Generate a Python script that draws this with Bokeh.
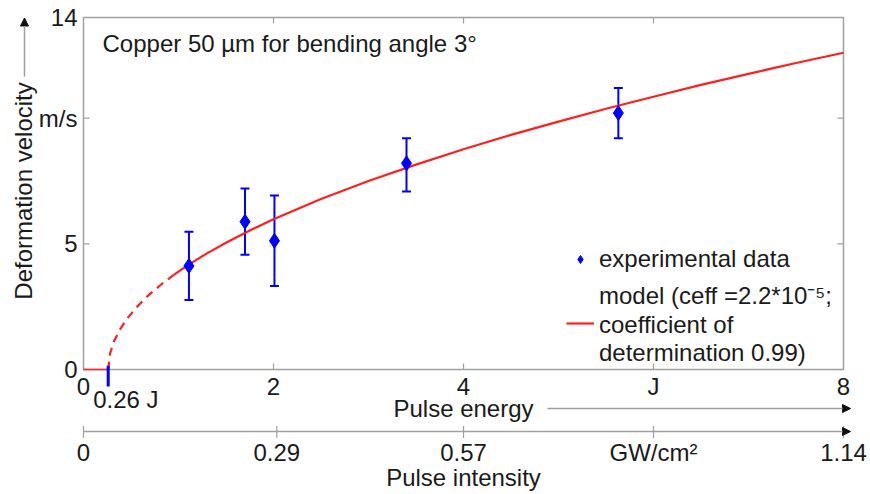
from bokeh.plotting import figure
from bokeh.models import (Range1d, Arrow, NormalHead, Whisker, TeeHead, ColumnDataSource,
                          Legend, LegendItem)
from bokeh.core.properties import value
from bokeh.embed import file_html
from bokeh.resources import INLINE

# ---- data ----
energy = [1.11, 1.70, 2.01, 3.40, 5.63]          # J
velocity = [4.12, 5.88, 5.12, 8.20, 10.20]        # m/s
err_low = [2.76, 4.56, 3.32, 7.08, 9.20]
err_high = [5.48, 7.20, 6.92, 9.20, 11.20]

model_dash_x = [0.26, 0.28, 0.32, 0.38, 0.46, 0.56, 0.68, 0.82, 0.95]
model_dash_y = [0.00, 0.64, 1.11, 1.57, 2.03, 2.48, 2.94, 3.39, 3.76]
model_x = [0.95, 1.1, 1.3, 1.5, 1.75, 2.0, 2.5, 3.0, 3.5, 4.0, 4.5, 5.0, 5.5, 6.0, 6.5, 7.0, 7.5, 8.0]
model_y = [3.76, 4.15, 4.62, 5.04, 5.53, 5.98, 6.78, 7.50, 8.15, 8.76, 9.33, 9.86, 10.37, 10.85,
           11.32, 11.76, 12.19, 12.60]
zero_x = [0.0, 0.26]
zero_y = [0.0, 0.0]
threshold = 0.26

energy_range = [0, 8]
vel_range = [0, 14]
int_range = [0, 1.14]
energy_ticks = [0, 2, 4, 6, 8]
energy_labels = ["0", "2", "4", "J", "8"]
vel_ticks = [0, 5, 10, 14]
vel_labels = ["0", "5", "m/s", "14"]
int_ticks = [0, 0.29, 0.57, 0.855, 1.14]
int_labels = ["0", "0.29", "0.57", "GW/cm\u00b2", "1.14"]

# ---- layout (pixels) ----
W, H = 870, 494
FL, FR, FT, FB = 83, 843, 17, 369          # frame edges in canvas pixels
PXE = (FR - FL) / (energy_range[1] - energy_range[0])
PXV = (FB - FT) / (vel_range[1] - vel_range[0])
AX2 = -62 / PXV                            # intensity axis position (data units)

FONT = value("Liberation Sans")
TXT = "#1a1a1a"
GRAY = "#a0a0a0"
FS = "24px"
RED = "#ff1f1f"
BLUE = "#0000ff"

xr = Range1d(-FL / PXE, (W - FL) / PXE)
yr = Range1d(-(H - FB) / PXV, FB / PXV)
p = figure(width=W, height=H, x_range=xr, y_range=yr, output_backend="svg",
           toolbar_location=None, x_axis_type=None, y_axis_type=None, min_border=0)
p.outline_line_color = None
p.grid.visible = False
scale_i = (int_range[1] - int_range[0]) / (energy_range[1] - energy_range[0])
p.extra_x_ranges = {"intensity": Range1d(xr.start * scale_i, xr.end * scale_i)}

# frame box
p.quad(left=[energy_range[0]], right=[energy_range[1]], bottom=[vel_range[0]], top=[vel_range[1]],
       fill_color=None, line_color=GRAY, line_width=1.5)

# inward ticks
tl_v = 6 / PXV
tl_e = 6 / PXE
inner_e = energy_ticks[1:-1]
inner_v = vel_ticks[1:-1]
p.segment(x0=inner_e, y0=[vel_range[0]] * 3, x1=inner_e, y1=[vel_range[0] + tl_v] * 3,
          line_color=GRAY, line_width=1.2)
p.segment(x0=inner_e, y0=[vel_range[1]] * 3, x1=inner_e, y1=[vel_range[1] - tl_v] * 3,
          line_color=GRAY, line_width=1.2)
p.segment(x0=[energy_range[0]] * 2, y0=inner_v, x1=[energy_range[0] + tl_e] * 2, y1=inner_v,
          line_color=GRAY, line_width=1.2)
p.segment(x0=[energy_range[1]] * 2, y0=inner_v, x1=[energy_range[1] - tl_e] * 2, y1=inner_v,
          line_color=GRAY, line_width=1.2)

# tick labels
p.text(x=[energy_range[0]] * 4, y=vel_ticks, text=vel_labels, x_offset=-6, y_offset=0,
       text_align="right", text_baseline="alphabetic", text_font=FONT, text_font_size=FS,
       text_color=TXT)
p.text(x=energy_ticks, y=[vel_range[0]] * 5, text=energy_labels, y_offset=17,
       text_align="center", text_baseline="alphabetic", text_font=FONT, text_font_size=FS,
       text_color=TXT)
p.text(x=[threshold], y=[vel_range[0]], text=["0.26 J"], x_offset=-15, y_offset=30,
       text_align="left", text_baseline="alphabetic", text_font=FONT, text_font_size=FS,
       text_color=TXT)

# axis titles
p.text(x=[(energy_range[0] + energy_range[1]) / 2], y=[vel_range[0]], text=["Pulse energy"],
       y_offset=39, text_align="center", text_baseline="alphabetic", text_font=FONT,
       text_font_size=FS, text_color=TXT)
p.text(x=[energy_range[0]], y=[7.1], text=["Deformation velocity"], x_offset=-60, angle=1.5708,
       text_align="center", text_baseline="alphabetic", text_font=FONT, text_font_size=FS,
       text_color=TXT)

# intensity axis
p.add_layout(Arrow(end=NormalHead(size=8, fill_color="#111111", line_color="#111111"),
                   x_start=int_range[0], y_start=AX2, x_end=1.1505, y_end=AX2,
                   x_range_name="intensity", line_color=GRAY, line_width=1.5))
p.segment(x0=int_ticks, y0=[AX2 - 6.5 / PXV] * 5, x1=int_ticks, y1=[AX2 + 5.5 / PXV] * 5,
          x_range_name="intensity", line_color=GRAY, line_width=1.2)
p.text(x=int_ticks, y=[AX2] * 5, text=int_labels, y_offset=21, x_range_name="intensity",
       text_align="center", text_baseline="alphabetic", text_font=FONT, text_font_size=FS,
       text_color=TXT)
p.text(x=[(int_range[0] + int_range[1]) / 2], y=[AX2], text=["Pulse intensity"], y_offset=46,
       x_range_name="intensity", text_align="center", text_baseline="alphabetic",
       text_font=FONT, text_font_size=FS, text_color=TXT)

# arrows next to titles
p.add_layout(Arrow(end=NormalHead(size=8, fill_color="#111111", line_color="#111111"),
                   x_start=4.884, y_start=-39 / PXV, x_end=8.074, y_end=-39 / PXV,
                   line_color=GRAY, line_width=1.5))
p.add_layout(Arrow(end=NormalHead(size=8, fill_color="#111111", line_color="#111111"),
                   x_start=-59 / PXE, y_start=vel_range[1] - 59 / PXV,
                   x_end=-59 / PXE, y_end=vel_range[1] - 0.5 / PXV,
                   line_color=GRAY, line_width=1.5))

# model curve
p.line(zero_x, zero_y, line_color=RED, line_width=1.5)
p.line(model_dash_x, model_dash_y, line_color=RED, line_width=2.2, line_dash="8 6")
model_r = p.line(model_x, model_y, line_color=RED, line_width=2.2)

# threshold marker
p.segment(x0=[threshold], y0=[0.15], x1=[threshold], y1=[-17 / PXV], line_color=BLUE, line_width=3)

# error bars and points
src = ColumnDataSource(dict(x=energy, y=velocity, lo=err_low, hi=err_high))
p.add_layout(Whisker(source=src, base="x", lower="lo", upper="hi", line_color=BLUE, line_width=2,
                     upper_head=TeeHead(size=9, line_color=BLUE, line_width=2),
                     lower_head=TeeHead(size=9, line_color=BLUE, line_width=2)))
pts = p.scatter("x", "y", source=src, marker="diamond", size=15, fill_color=BLUE, line_color=BLUE)

# annotation text
p.text(x=[energy_range[0]], y=[vel_range[1]], text=["Copper 50 \u00b5m for bending angle 3\u00b0"],
       x_offset=19, y_offset=26, text_align="left", text_baseline="alphabetic", text_font=FONT,
       text_font_size=FS, text_color=TXT)

legend = Legend(items=[LegendItem(label="experimental data", renderers=[pts]),
                       LegendItem(label="model (ceff =2.2*10\u207b\u2075;\ncoefficient of\ndetermination 0.99)",
                                  renderers=[model_r])],
                location=(566, H - FB + 2), border_line_color=None, background_fill_alpha=0,
                padding=0, margin=0, spacing=5, glyph_width=28, label_standoff=5,
                label_text_font="Liberation Sans", label_text_font_size=FS, label_text_color=TXT,
                label_text_line_height=1.1)
p.add_layout(legend)

open("out.html", "w").write(file_html(p, INLINE))
